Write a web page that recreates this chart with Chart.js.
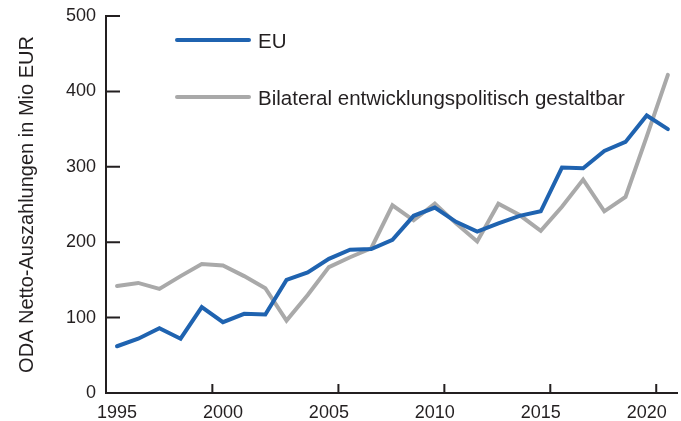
<!DOCTYPE html>
<html>
<head>
<meta charset="utf-8">
<script src="https://cdn.jsdelivr.net/npm/chart.js@4"></script>
<style>
  html, body { margin: 0; padding: 0; background: #fff; }
  #wrap { width: 681px; height: 421px; }
</style>
</head>
<body>
<div id="wrap"><canvas id="grafico"></canvas></div>
<script>
// años y valores (Mio EUR)
const anios = [1995,1996,1997,1998,1999,2000,2001,2002,2003,2004,2005,2006,2007,2008,
	2009,2010,2011,2012,2013,2014,2015,2016,2017,2018,2019,2020,2021]
const eu = [62,72,86,72,114,94,105,104,150,160,178,190,191,203,
	235,246,227,214,225,235,241,299,298,321,333,368,350]
const bilateral = [142,146,138,155,171,169,155,139,96,130,167,180,192,249,
	229,251,225,201,251,236,215,247,283,241,260,340,422]

const etiquetasX = [1995,2000,2005,2010,2015,2020]
const marcasX = [1999.5,2005.45,2010.45,2015.45,2020.45]
const etiquetasY = [0,100,200,300,400,500]

const colorTexto = '#231f20'
const fuente = 'Liberation Sans, Arial, Helvetica, sans-serif'

// marcas de los ejes hacia adentro + leyenda propia
const extras = {
	id: 'extras',
	afterDraw(chart){
		const ctx = chart.ctx
		const a = chart.chartArea
		const x = chart.scales.x
		const y = chart.scales.y
		ctx.save()
		ctx.strokeStyle = colorTexto
		ctx.lineWidth = 2
		ctx.beginPath()
		etiquetasY.forEach(v => {
			const py = y.getPixelForValue(v)
			ctx.moveTo(a.left, py)
			ctx.lineTo(a.left + 14, py)
		})
		marcasX.forEach(v => {
			const px = x.getPixelForValue(v)
			ctx.moveTo(px, a.bottom)
			ctx.lineTo(px, a.bottom - 9)
		})
		ctx.stroke()

		// leyenda
		ctx.font = '20.5px ' + fuente
		ctx.textBaseline = 'middle'
		ctx.lineCap = 'round'
		chart.data.datasets.forEach((ds, i) => {
			const ly = a.top + 24 + i * 57
			ctx.strokeStyle = ds.borderColor
			ctx.lineWidth = 4
			ctx.beginPath()
			ctx.moveTo(a.left + 71, ly)
			ctx.lineTo(a.left + 143, ly)
			ctx.stroke()
			ctx.fillStyle = colorTexto
			ctx.fillText(ds.label, a.left + 152, ly + 2)
		})
		ctx.restore()
	}
}

const config = {
	type: 'line',
	data: {
		datasets: [{
			label: 'EU',
			data: anios.map((a, i) => ({x: a, y: eu[i]})),
			borderColor: '#1f63b0',
			borderWidth: 4,
			pointRadius: 0,
			tension: 0,
			borderCapStyle: 'round',
			clip: false
		}, {
			label: 'Bilateral entwicklungspolitisch gestaltbar',
			data: anios.map((a, i) => ({x: a, y: bilateral[i]})),
			borderColor: '#a9a9a9',
			borderWidth: 4,
			pointRadius: 0,
			tension: 0,
			borderCapStyle: 'round',
			clip: false
		}]
	},
	options: {
		responsive: true,
		maintainAspectRatio: false,
		animation: false,
		layout: { padding: { top: 16, right: 4, left: 0, bottom: 0 } },
		plugins: { legend: { display: false }, tooltip: { enabled: false } },
		scales: {
			x: {
				type: 'linear',
				min: 1994.48,
				max: 2021.43,
				grid: { display: false, drawTicks: false },
				border: { display: true, color: colorTexto, width: 2 },
				afterBuildTicks: s => { s.ticks = etiquetasX.map(v => ({value: v})) },
				afterFit: s => { s.height = 28; s.paddingLeft = 0; s.paddingRight = 0 },
				ticks: {
					padding: 9,
					color: colorTexto,
					font: { family: fuente, size: 18 },
					callback: v => String(v),
					maxRotation: 0
				}
			},
			y: {
				min: 0,
				max: 500,
				grid: { display: false, drawTicks: false },
				border: { display: true, color: colorTexto, width: 2 },
				afterBuildTicks: s => { s.ticks = etiquetasY.map(v => ({value: v})) },
				afterFit: s => { s.width = 106; s.paddingTop = 0; s.paddingBottom = 0 },
				ticks: {
					padding: 10,
					color: colorTexto,
					font: { family: fuente, size: 18 }
				},
				title: {
					display: true,
					text: 'ODA Netto-Auszahlungen in Mio EUR',
					color: colorTexto,
					font: { family: fuente, size: 20 },
					padding: { top: 15, bottom: 0 }
				}
			}
		}
	},
	plugins: [extras]
}

new Chart(document.querySelector('#grafico'), config)
</script>
</body>
</html>
